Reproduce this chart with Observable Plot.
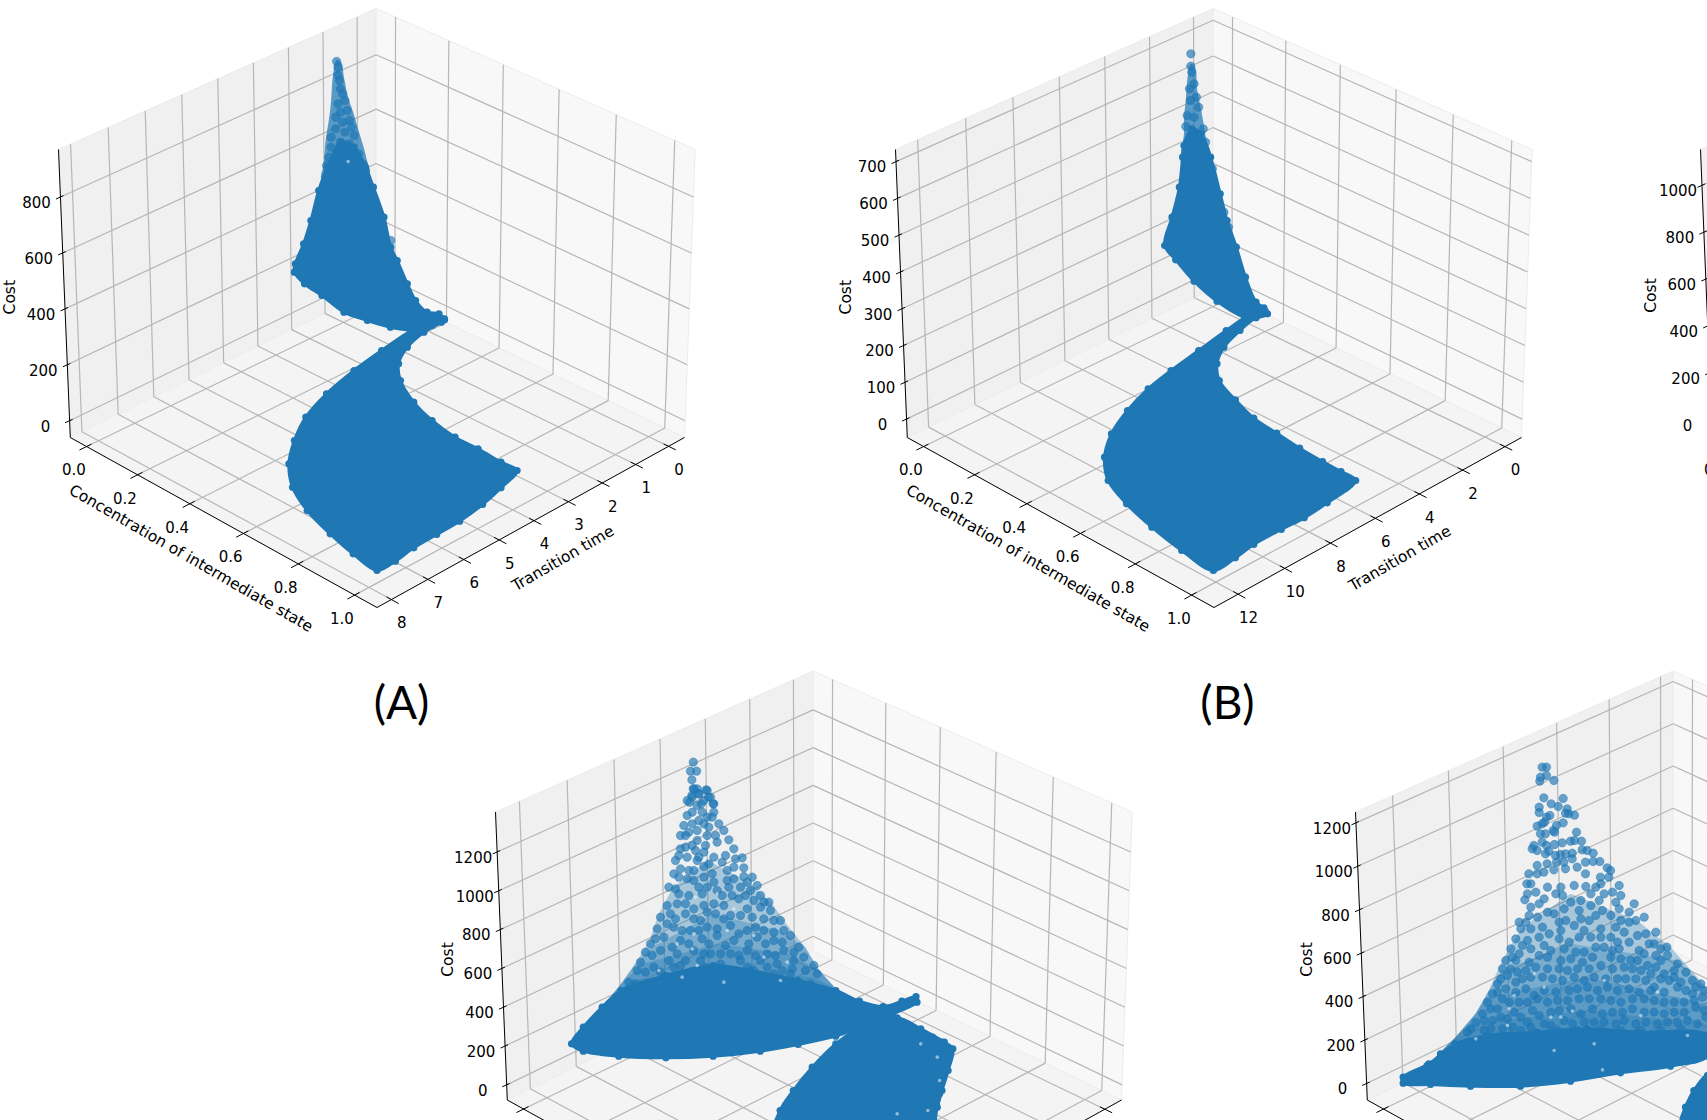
<!DOCTYPE html>
<html><head><meta charset="utf-8">
<script src="https://cdn.jsdelivr.net/npm/d3@7"></script>
<script src="https://cdn.jsdelivr.net/npm/@observablehq/plot@0.6"></script>
<style>html,body{margin:0;padding:0;background:#fff;overflow:hidden}svg{display:block}</style>
</head><body><div id="chart"></div>
<script>
// ---- axis values
const concTicks = [0, 0.2, 0.4, 0.6, 0.8, 1.0];
const costTicksA = [0, 200, 400, 600, 800];
const costTicksB = [0, 100, 200, 300, 400, 500, 600, 700];
const costTicksC = [0, 200, 400, 600, 800, 1000, 1200];
const costTicksD = [0, 200, 400, 600, 800, 1000, 1200];
const costTicksE = [0, 200, 400, 600, 800, 1000];
const timeTicksA = [0, 1, 2, 3, 4, 5, 6, 7, 8];
const timeTicksB = [0, 2, 4, 6, 8, 10, 12];
const timeTicksC = [0, 1, 2, 3, 4, 5, 6];
const timeTicksD = [0, 1, 2, 3, 4, 5];
const timeTicksE = [];

const panels = [
  {dx: 0,    dy: 0,     cost: costTicksA, costLim: [-60, 970],  time: timeTicksA, timeLim: [-0.49, 8.39], costLabel: [9.2, 296.7]},
  {dx: 837,  dy: 0,     cost: costTicksB, costLim: [-50, 733],  time: timeTicksB, timeLim: [-0.79, 13.02], costLabel: [846, 296.7]},
  {dx: 1642, dy: 0,     cost: costTicksE, costLim: [-76, 1153], time: timeTicksE, timeLim: [0, 1], costLabel: [1650.7, 295]},
  {dx: 437,  dy: 662.5, cost: costTicksC, costLim: [-78, 1406], time: timeTicksC, timeLim: [-0.4, 6.55], costLabel: [447.4, 959]},
  {dx: 1297, dy: 662.5, cost: costTicksD, costLim: [-76, 1250], time: timeTicksD, timeLim: [-0.2, 5.7], costLabel: [1306.7, 959]}
];
const panelLetters = [["(A)", 401, 704], ["(B)", 1227, 704]];

// ---- the scatter clouds (crop reading units)
const aTipPoly = [[732,178],[724,225],[720,300],[716,350],[708,420],[704,490],[700,540],[802,540],[798,480],[782,400],[768,335],[757,290],[748,230],[742,185]];
const aUpper = [[742,425],[712,500],[693,570],[676,660],[660,730],[642,790],[640,815],[662,850],[700,885],[748,935],[799,960],[849,980],[897,988],[940,975],[967,958],[955,940],[929,935],[904,900],[886,850],[864,780],[850,740],[835,650],[812,560],[795,500],[770,440]];
const aLower = [[967,-5],[930,5],[897,28],[830,90],[770,150],[710,220],[665,290],[640,360],[628,430],[636,500],[668,570],[718,640],[768,700],[820,750],[860,722],[900,682],[950,642],[1000,602],[1050,552],[1090,502],[1125,450],[1090,425],[1040,385],[990,350],[940,300],[900,245],[871,180],[867,130],[886,80],[922,35],[960,5]];
const aTip = [[732,183],[735,200],[735,225],[738,240],[740,265],[745,280],[750,300],[735,310],[755,330],[740,335],[730,350],[760,360],[745,365],[765,380],[730,385],[750,395],[720,410],[770,405],[740,425],[760,430],[720,440],[780,460],[745,455],[715,470],[790,490],[735,490],[710,495],[795,510],[800,550],[815,620],[850,720]];
const aGap = [[757,483]];

const bTipPoly = [[763,190],[755,240],[752,300],[748,350],[748,400],[745,470],[806,470],[797,420],[787,340],[777,270],[772,200]];
const bUpper = [[765,385],[748,435],[745,470],[738,560],[722,650],[706,735],[730,778],[770,842],[820,902],[880,950],[905,952],[930,940],[922,922],[905,905],[882,830],[862,740],[842,660],[827,580],[806,470],[785,400]];
const bLower = [[925,-28],[885,-12],[840,30],[780,90],[720,150],[670,205],[625,270],[590,340],[575,410],[583,480],[623,550],[678,620],[743,690],[812,750],[860,712],[900,672],[960,627],[1010,592],[1060,547],[1122,480],[1090,453],[1050,423],[1000,383],[950,338],[900,293],[860,238],[825,180],[820,130],[835,80],[870,30],[905,-10]];
const bTip = [[763,160],[763,197],[765,215],[770,250],[760,265],[775,290],[762,300],[780,320],[755,345],[770,350],[790,385],[752,378],[795,425],[810,505],[835,635],[845,680]];

const cL1 = [[610,600],[535,680],[505,760],[485,840],[455,910],[425,970],[385,1040],[880,1040],[880,985],[845,930],[815,860],[775,790],[745,730],[700,670]];
const cL2 = [[620,760],[490,860],[455,910],[425,970],[385,1040],[880,1040],[880,985],[845,930],[815,860],[760,810]];
const cL3 = [[630,850],[470,910],[425,970],[385,1040],[880,1040],[880,985],[845,930],[780,880]];
const cL4 = [[640,925],[445,960],[385,1040],[880,1040],[880,985],[830,950]];
const cDense = [[425,990],[385,1040],[345,1100],[320,1150],[345,1172],[420,1187],[520,1192],[620,1187],[720,1172],[800,1152],[880,1127],[930,1102],[980,1085],[1000,1062],[1052,1025],[1050,1008],[1020,1022],[980,1038],[930,1022],[880,990],[800,960],[700,930],[620,915],[520,945]];
const cLower = [[945,1092],[880,1150],[830,1220],[790,1290],[762,1350],[750,1430],[1075,1430],[1095,1340],[1105,1290],[1118,1230],[1128,1165],[1110,1145],[1060,1105],[1010,1072]];
const cLowerEdge = [[1010,1078],[1035,1095],[1060,1110],[1085,1130],[1105,1145],[1118,1165],[1110,1195],[1112,1225],[1105,1260],[1100,1300],[1085,1345],[1075,1375]];
const cLowerGaps = [[1095,1190],[1100,1260],[1010,1360],[1060,1150],[1075,1350]];
const cTopDots = [[578,305],[585,332],[572,332],[575,358],[578,385],[605,388],[575,405],[590,400],[610,410],[620,430],[570,425],[595,430]];
const cDots = [[400,25],[440,30],[395,50],[380,60],[415,40],[450,50],[460,70],[395,95],[425,95],[440,110],[455,110],[370,135],[395,130],[430,130],[475,130],[360,165],[385,155],[410,150],[440,165],[490,150],[505,178],[470,185],[410,180],[435,195],[360,205],[375,200],[355,225],[405,210],[380,230],[430,215],[460,230],[495,225],[520,205],[545,232],[410,240],[430,258],[360,265],[340,280],[385,270],[380,295],[455,280],[500,270],[520,260],[550,262],[550,288],[575,290],[520,295],[590,315],[400,300],[460,305],[325,320],[355,340],[385,345],[425,340],[470,330],[505,320],[540,320],[570,330],[600,345],[625,365],[320,375],[350,370],[430,375],[490,375],[535,355],[600,380],[630,390],[300,410],[330,400],[375,400],[420,420],[465,400],[510,405],[540,405],[575,410],[640,420],[660,420],[290,445],[340,440],[390,450],[440,440],[510,435],[560,450],[610,450],[670,450],[270,490],[310,470],[360,480],[425,475],[470,465],[520,480],[590,470],[640,480],[690,465],[715,500],[255,515],[300,510],[350,520],[400,510],[450,520],[510,520],[560,510],[620,520],[670,510],[730,530],[240,545],[280,560],[340,560],[420,540],[480,550],[540,540],[600,540],[650,550],[700,540],[760,555],[230,570],[310,590],[390,575],[450,580],[515,575],[580,570],[640,580],[690,580],[770,580],[205,605],[260,610],[340,610],[420,610],[480,605],[540,610],[610,600],[680,610],[750,610]];
const cDotsMore = [[410,25],[430,60],[410,75],[380,105],[460,95],[445,140],[415,120],[375,165],[465,165],[395,195],[345,240],[415,230],[445,250],[485,245],[400,270],[525,235],[355,290],[430,290],[500,300],[560,305],[415,320],[440,320],[345,325],[485,345],[555,345],[375,370],[400,385],[460,370],[515,345],[580,360],[610,365],[345,415],[400,415],[440,395],[490,415],[560,385],[610,415],[320,430],[365,450],[415,450],[470,445],[535,460],[585,440],[640,455],[285,475],[335,500],[385,490],[445,490],[495,495],[565,490],[615,490],[665,485],[700,515],[275,525],[325,540],[375,540],[430,520],[480,520],[535,525],[585,525],[645,525],[695,565],[255,575],[300,575],[360,555],[435,560],[495,575],[560,560],[620,560],[665,570],[735,570],[225,610],[285,620],[370,625],[450,620],[515,620],[580,620],[650,620],[720,610]];
const cGaps = [[405,350],[470,340],[520,385],[400,460],[350,490],[295,570],[365,590],[410,555],[660,600],[680,545],[490,605],[500,450],[580,465],[610,530],[395,505]];

const dL1 = [[900,700],[757,800],[730,840],[695,900],[655,990],[615,1060],[555,1130],[475,1210],[1311,1180],[1311,985],[1200,860],[1100,780]];
const dL2 = [[900,850],[695,930],[655,990],[615,1060],[555,1130],[475,1210],[1311,1180],[1311,985],[1220,900]];
const dL3 = [[950,950],[650,1010],[615,1060],[555,1130],[475,1210],[1311,1180],[1311,1030]];
const dL4 = [[950,1050],[600,1090],[555,1130],[475,1210],[1311,1180],[1311,1090]];
const dDense = [[555,1150],[475,1210],[398,1250],[398,1268],[480,1272],[600,1277],[750,1277],[900,1262],[1050,1237],[1200,1217],[1311,1187],[1311,1125],[1100,1115],[950,1105],[800,1115],[650,1125]];
const dLower = [[1311,1245],[1270,1290],[1245,1340],[1232,1390],[1311,1430]];
const dDots = [[815,320],[828,320],[828,345],[810,350],[808,362],[850,360],[820,412],[878,414],[842,430],[806,440],[863,438],[890,445],[806,456],[838,465],[885,458],[895,460],[912,464],[828,470],[822,485],[815,490],[800,497],[878,487],[858,495],[848,510],[810,520],[825,520],[918,515],[852,515],[790,555],[815,545],[828,555],[852,552],[875,547],[900,542],[912,540],[933,542],[785,565],[800,570],[835,572],[825,580],[870,582],[885,580],[905,578],[935,568],[950,570],[968,578],[855,585],[800,615],[830,610],[858,605],[880,605],[905,595],[945,605],[968,603],[988,603],[1010,622],[1020,630],[775,640],[800,640],[820,635],[850,628],[885,625],[920,620],[945,640],[990,650],[1015,650]];
const dDotsLow = [[238,10],[300,20],[340,20],[415,18],[460,10],[515,15],[232,58],[265,35],[345,45],[400,60],[430,40],[470,40],[520,45],[560,70],[250,80],[275,70],[300,95],[350,85],[395,90],[430,75],[465,90],[515,85],[590,110],[245,105],[320,100],[355,120],[425,120],[490,105],[545,125],[215,125],[250,145],[285,140],[340,150],[380,135],[410,150],[460,145],[505,140],[565,120],[595,160],[625,155],[220,145],[205,175],[240,180],[275,170],[335,175],[365,185],[430,170],[510,185],[545,185],[570,165],[605,190],[640,205],[658,200],[190,205],[215,220],[250,205],[290,195],[350,205],[410,215],[470,200],[515,205],[575,210],[625,225],[175,240],[205,240],[245,245],[300,230],[370,235],[435,230],[490,230],[550,240],[600,255],[640,240],[690,250],[165,265],[210,275],[265,260],[335,265],[390,265],[460,255],[530,260],[580,270],[650,280],[715,275],[180,285],[150,310],[205,305],[250,290],[315,295],[380,290],[440,290],[510,295],[565,295],[620,320],[665,300],[735,300],[760,310],[135,340],[175,325],[235,325],[290,330],[365,330],[420,320],[480,320],[545,325],[610,330],[690,320],[735,340],[120,365],[165,355],[215,365],[270,355],[330,360],[395,355],[460,355],[520,365],[590,355],[650,365],[710,365],[765,350],[105,400],[150,385],[200,395],[255,390],[310,395],[370,385],[435,385],[495,395],[555,385],[620,395],[680,395],[745,380],[85,425],[135,420],[180,415],[240,425],[290,430],[350,420],[410,425],[470,425],[530,420],[595,425],[660,425],[720,420],[775,410],[60,455],[110,450],[165,445],[220,450],[270,460],[330,450],[390,450],[455,450],[520,450],[580,450],[640,450],[700,445]];
const dDotsMore = [[250,10],[325,40],[380,15],[445,20],[495,35],[240,40],[290,55],[370,65],[455,60],[505,65],[545,95],[270,110],[335,125],[400,115],[445,105],[520,120],[235,125],[305,160],[395,170],[460,170],[490,170],[530,155],[620,190],[225,195],[310,210],[385,215],[445,200],[495,210],[590,220],[660,225],[195,230],[275,225],[340,240],[405,245],[520,235],[570,240],[625,260],[680,270],[190,265],[235,270],[300,265],[360,270],[425,265],[495,265],[555,265],[610,280],[680,290],[160,295],[225,295],[285,290],[345,300],[410,300],[475,295],[535,295],[595,300],[640,295],[700,305],[745,320],[150,335],[205,335],[260,345],[325,335],[390,325],[450,330],[510,330],[575,335],[650,335],[715,330],[770,330],[130,385],[185,365],[240,365],[300,365],[360,360],[425,355],[490,360],[555,355],[620,360],[680,365],[740,360],[110,420],[160,410],[220,410],[275,405],[335,390],[400,400],[465,400],[525,395],[590,395],[650,400],[710,395],[770,390],[70,445],[130,445],[195,440],[250,440],[310,435],[375,430],[440,425],[505,430],[565,430],[630,430],[690,425],[750,430]];
const dGaps = [[340,410],[375,392],[185,385],[200,345],[180,435],[85,475],[440,490],[320,510],[465,568],[580,405],[720,465],[630,335],[290,320],[260,280],[470,300],[310,410]];
const dEdge = [[405,1258],[420,1258],[440,1240],[470,1215],[510,1180]];

// crop reading units -> picture units
const crop = (list, x0, y0, fx, fy) => list.map(([x, y]) => ({x: x0 + x / fx, y: y0 + y / fy}));
const fA = 1568 / 720, fC = 1568 / 740;
const clouds = {
  solid: [
    crop(aUpper, 0, 0, fA, 3), crop(aLower, 0, 320, fA, 3),
    crop(bUpper, 840, 0, fA, 3), crop(bLower, 840, 320, fA, 3),
    crop(cDense, 420, 660, fC, 3), crop(cLower, 420, 660, fC, 3),
    crop(dDense, 1270, 660, 3, 3), crop(dLower, 1270, 660, 3, 3)
  ],
  tips: [crop(aTipPoly, 0, 0, fA, 3), crop(bTipPoly, 840, 0, fA, 3)],
  layers: [crop(cL1, 420, 660, fC, 3), crop(cL2, 420, 660, fC, 3), crop(cL3, 420, 660, fC, 3), crop(cL4, 420, 660, fC, 3), crop(dL1, 1270, 660, 3, 3), crop(dL2, 1270, 660, 3, 3), crop(dL3, 1270, 660, 3, 3), crop(dL4, 1270, 660, 3, 3)]
};
const edgeDots = [...clouds.solid.flat(), ...crop(dEdge, 1270, 660, 3, 3), ...crop(cLowerEdge, 420, 660, fC, 3)];
const tipDots = [
  ...crop(aTip, 0, 0, fA, 3), ...crop(bTip, 840, 0, fA, 3),
  ...crop(cTopDots, 420, 660, fC, 3), ...crop(cDots, 560, 780, 3, 3), ...crop(cDotsMore, 560, 780, 3, 3),
  ...crop(dDots, 1270, 660, 3, 3), ...crop(dDotsLow, 1447, 880, 3, 3), ...crop(dDotsMore, 1447, 880, 3, 3)
];
const gapDots = [...crop(aGap, 0, 0, fA, 3), ...crop(cGaps, 560, 780, 3, 3), ...crop(cLowerGaps, 420, 660, fC, 3), ...crop(dGaps, 1447, 880, 3, 3)];

// ---- shared view of the 3D box
const L = [69.8, 437], F = [376.5, 607], R = [684, 437], B = [375.6, 288];
const Lt = [58, 149], Bt = [375.6, 8], Rt = [694.7, 149];
const lerp = (p, q, s) => [p[0] + (q[0] - p[0]) * s, p[1] + (q[1] - p[1]) * s];
const H = (() => {
  const [x0, y0] = B, [x1, y1] = R, [x2, y2] = F, [x3, y3] = L;
  const dx1 = x1 - x2, dx2 = x3 - x2, sx = x0 - x1 + x2 - x3, dy1 = y1 - y2, dy2 = y3 - y2, sy = y0 - y1 + y2 - y3;
  const den = dx1 * dy2 - dx2 * dy1, g = (sx * dy2 - dx2 * sy) / den, h = (dx1 * sy - sx * dy1) / den;
  return {a: x1 - x0 + g * x1, b: x3 - x0 + h * x3, c: x0, d: y1 - y0 + g * y1, e: y3 - y0 + h * y3, f: y0, g, h};
})();
const floorPt = (u, v) => {
  const w = H.g * u + H.h * v + 1;
  return [(H.a * u + H.b * v + H.c) / w, (H.d * u + H.e * v + H.f) / w];
};
const leftTop = p => lerp(Lt, Bt, (p[0] - L[0]) / (B[0] - L[0]));
const rightTop = p => lerp(Bt, Rt, (p[0] - B[0]) / (R[0] - B[0]));

const segs = [], axisSegs = [], tickSegs = [], tickLabels = [], walls = [];
const cLim = [-0.065, 1.078], backShift = 0.008;
panels.forEach((p, pi) => {
  const T = q => [q[0] + p.dx, q[1] + p.dy];
  const seg = (arr, a, b) => { const [x1, y1] = T(a), [x2, y2] = T(b); arr.push({x1, y1, x2, y2}); };
  const uOf = c => (c - cLim[0]) / (cLim[1] - cLim[0]);
  const vOf = t => (t - p.timeLim[0]) / (p.timeLim[1] - p.timeLim[0]);
  const wOf = z => (z - p.costLim[0]) / (p.costLim[1] - p.costLim[0]);
  const poly = (id, fill, pts) => pts.forEach(q => { const [x, y] = T(q); walls.push({id: pi + id, fill, x, y}); });
  poly("L", "#f0f0f0", [L, Lt, Bt, B]);
  poly("R", "#f8f8f8", [B, Bt, Rt, R]);
  poly("F", "#f4f4f4", [L, B, R, F]);
  concTicks.forEach(c => {
    const u = uOf(c), back = floorPt(u + backShift, 0), front = floorPt(u, 1);
    seg(segs, back, front);
    seg(segs, back, rightTop(back));
    seg(tickSegs, floorPt(u, 0.985), floorPt(u, 1.022));
    const [x, y] = T(floorPt(u, 1));
    tickLabels.push({x: x - 12.7, y: y + 24, text: c.toFixed(1)});
  });
  p.time.forEach(t => {
    const v = vOf(t), back = floorPt(0, v + backShift), front = floorPt(1, v);
    seg(segs, back, front);
    seg(segs, back, leftTop(back));
    seg(tickSegs, floorPt(0.985, v), floorPt(1.022, v));
    const [x, y] = T(floorPt(1, v));
    tickLabels.push({x: x + 10.5, y: y + 24, text: String(t)});
  });
  p.cost.forEach(z => {
    const w = wOf(z), a = lerp(L, Lt, w), b = lerp(B, Bt, w), c = lerp(R, Rt, w);
    seg(segs, a, b);
    seg(segs, b, c);
    seg(tickSegs, [a[0] - 4.5, a[1] + 2], [a[0] + 3, a[1] - 1.4]);
    const [x, y] = T(a);
    tickLabels.push({x: x - 24, y: y + 6, text: String(z)});
  });
  seg(axisSegs, Lt, L);
  seg(axisSegs, L, F);
  seg(axisSegs, F, R);
});

const axisTitles = [];
panels.forEach(p => {
  axisTitles.push({x: p.costLabel[0], y: p.costLabel[1], text: "Cost", rotate: -90});
  axisTitles.push({x: 190.5 + p.dx, y: 558 + p.dy, text: "Concentration of intermediate state", rotate: 30});
  if (p.time.length) axisTitles.push({x: 562.4 + p.dx, y: 558 + p.dy, text: "Transition time", rotate: -30});
});
const onCanvas = d => d.x < 1720 && d.y < 1132;

const blue = "#1f77b4", ff = "DejaVu Sans";
const flag = (list, i) => list.map(d => ({...d, id: i}));
const plot = Plot.plot({
  width: 1707, height: 1120, margin: 0,
  x: {domain: [0, 1707], range: [0, 1707], axis: null},
  y: {domain: [0, 1120], range: [0, 1120], axis: null},
  style: {background: "#fff"},
  marks: [
    Plot.line(walls, {x: "x", y: "y", z: "id", fill: "fill", stroke: "#ececec", strokeWidth: 1, curve: "linear-closed"}),
    Plot.link(segs, {x1: "x1", y1: "y1", x2: "x2", y2: "y2", stroke: "#b6b6b6", strokeWidth: 1.2}),
    Plot.link(axisSegs, {x1: "x1", y1: "y1", x2: "x2", y2: "y2", stroke: "#000", strokeWidth: 1}),
    Plot.link(tickSegs, {x1: "x1", y1: "y1", x2: "x2", y2: "y2", stroke: "#000", strokeWidth: 1}),
    Plot.line(clouds.layers.flatMap(flag), {x: "x", y: "y", z: "id", fill: blue, fillOpacity: 0.34, stroke: "none", curve: "linear-closed"}),
    Plot.line(clouds.tips.flatMap(flag), {x: "x", y: "y", z: "id", fill: blue, fillOpacity: 0.72, stroke: "none", curve: "catmull-rom-closed"}),
    Plot.dot(tipDots, {x: "x", y: "y", r: 4.2, fill: blue, fillOpacity: 0.66, stroke: blue, strokeOpacity: 0.45, strokeWidth: 1}),
    Plot.line(clouds.solid.flatMap(flag), {x: "x", y: "y", z: "id", fill: blue, stroke: blue, strokeWidth: 3, strokeLinejoin: "round", curve: "catmull-rom-closed"}),
    Plot.dot(edgeDots, {x: "x", y: "y", r: 3.6, fill: blue, stroke: "none"}),
    Plot.dot(gapDots, {x: "x", y: "y", r: 1.8, fill: "#fff", fillOpacity: 0.5, stroke: "none"}),
    Plot.text(tickLabels.filter(onCanvas), {x: "x", y: "y", text: "text", fontSize: 15, fontFamily: ff, fill: "#000"}),
    Plot.text(axisTitles.filter(onCanvas), {x: "x", y: "y", text: "text", rotate: "rotate", fontSize: 15.5, fontFamily: ff, fill: "#000"}),
    Plot.text(panelLetters, {x: d => d[1], y: d => d[2], text: d => d[0], fontSize: 46, fontFamily: "Lato", fill: "#000"})
  ]
});
document.getElementById("chart").appendChild(plot);
</script></body></html>
